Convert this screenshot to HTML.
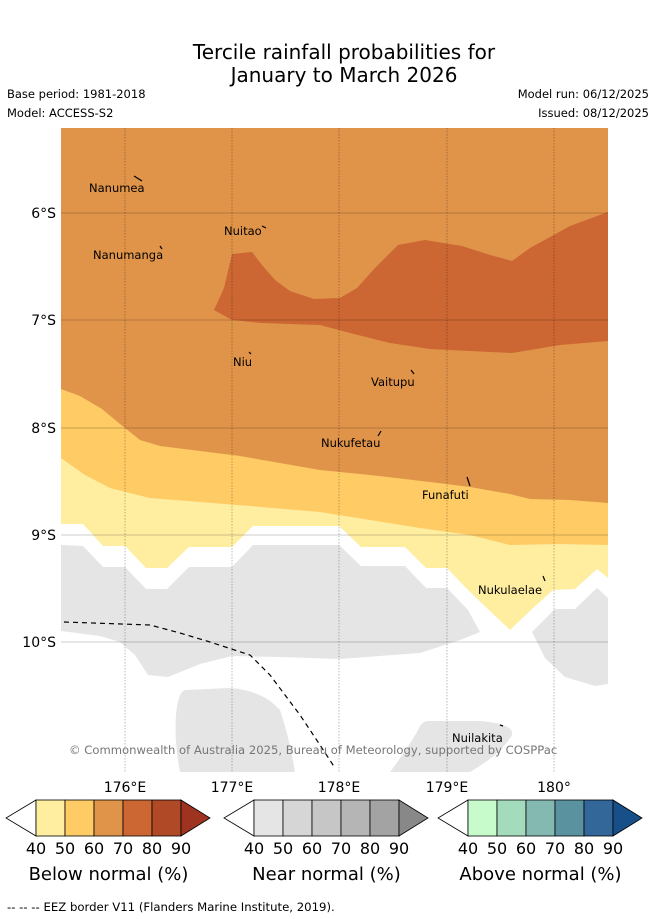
<!DOCTYPE html>
<html><head><meta charset="utf-8"><style>
html,body{margin:0;padding:0;background:#fff}
body{width:655px;height:919px;position:relative;overflow:hidden;font-family:"DejaVu Sans","Liberation Sans",sans-serif}
.t{position:absolute;white-space:nowrap}
</style></head><body>
<div class="t" style="left:0;width:688px;top:41px;text-align:center;font-size:20px;line-height:23px">Tercile rainfall probabilities for<br>January to March 2026</div>
<div class="t" style="left:7px;top:87px;font-size:11.5px">Base period: 1981-2018</div>
<div class="t" style="left:7px;top:106px;font-size:11.5px">Model: ACCESS-S2</div>
<div class="t" style="right:6px;top:87px;font-size:11.5px">Model run: 06/12/2025</div>
<div class="t" style="right:6px;top:106px;font-size:11.5px">Issued: 08/12/2025</div>

<svg style="position:absolute;left:0;top:0" width="655" height="919">
<defs><clipPath id="mc"><rect x="61" y="128" width="547" height="644"/></clipPath></defs>
<g clip-path="url(#mc)">
<rect x="61" y="128" width="547" height="644" fill="#e0944a"/>
<polygon fill="#cc6633" points="214,310 224,288 232,254 252,252 262,265 275,280 290,291 314,299 340,298 357,288 375,268 398,245 425,240 462,246 490,255 512,261 530,248 570,226 608,212 608,341 560,345 512,353 470,351 430,349 390,343 350,333 320,325 290,324 262,323 232,320"/>
<polygon fill="#fecb65" points="61,389 80,396 102,409 120,424 140,440 160,446 200,451 240,456 280,463 320,470 370,475 430,482 470,487 510,494 530,499 570,500 608,503 608,772 61,772"/>
<polygon fill="#ffeda0" points="61,458 85,475 110,488 150,498 200,502 250,506 320,512 370,520 420,528 470,535 510,545 560,544 608,545 608,772 61,772"/>
<polygon fill="#ffffff" points="61,524 83,524 103,546 125,546 146,568 167,568 189,547 232,547 253,526 339,526 361,547 405,547 426,568 447,568 468,590 490,611 510,630 532,609 553,590 575,589 597,569 608,578 608,772 61,772"/>
<polygon fill="#e5e5e5" points="61,545 83,546 103,567 125,567 146,589 167,589 189,567 232,567 253,545 339,545 361,566 405,566 426,588 447,588 468,610 480,632 460,640 420,653 340,659 280,657 232,656 200,664 168,677 148,675 135,655 120,642 100,636 61,631"/>
<polygon fill="#e5e5e5" points="608,598 597,588 575,609 555,609 532,632 545,658 565,677 595,686 608,684"/>
<path fill="#e5e5e5" d="M185,690 L230,688 Q262,690 280,710 Q290,740 295,772 L180,772 Q174,740 176,715 Q178,692 185,690 Z"/>
<path fill="#e5e5e5" d="M428,721 L480,721 Q515,724 512,735 Q500,755 470,772 L390,772 Q410,745 418,730 Q422,721 428,721 Z"/>
<g stroke="rgba(0,0,0,0.3)" stroke-width="0.9" stroke-dasharray="1.5,1.5">
<line x1="125" y1="128" x2="125" y2="772"/><line x1="232" y1="128" x2="232" y2="772"/><line x1="339" y1="128" x2="339" y2="772"/><line x1="447" y1="128" x2="447" y2="772"/><line x1="554" y1="128" x2="554" y2="772"/>
</g>
<g stroke="rgba(0,0,0,0.2)" stroke-width="1">
<line x1="61" y1="213" x2="608" y2="213"/><line x1="61" y1="320" x2="608" y2="320"/><line x1="61" y1="428" x2="608" y2="428"/><line x1="61" y1="535" x2="608" y2="535"/><line x1="61" y1="642" x2="608" y2="642"/>
</g>
<polyline fill="none" stroke="#000" stroke-width="1.2" stroke-dasharray="5,4" points="64,622 150,625 180,633 210,642 250,655 270,675 300,715 320,745 335,768"/>
<g stroke="#000" stroke-width="1.2">
<line x1="134" y1="176" x2="142" y2="181"/><line x1="160" y1="246" x2="162" y2="249"/><line x1="262" y1="226" x2="266" y2="228"/><line x1="249" y1="352" x2="251" y2="354"/><line x1="411" y1="370" x2="414" y2="374"/><line x1="378" y1="436" x2="381" y2="431"/><line x1="467" y1="477" x2="470" y2="486"/><line x1="543" y1="576" x2="545" y2="581"/><line x1="500" y1="725" x2="503" y2="726"/>
</g>
</g>
<g font-family="DejaVu Sans, Liberation Sans, sans-serif" font-size="11.5" fill="#000">
<text x="89" y="192">Nanumea</text>
<text x="93" y="259">Nanumanga</text>
<text x="224" y="235">Nuitao</text>
<text x="233" y="366">Niu</text>
<text x="371" y="386">Vaitupu</text>
<text x="321" y="447">Nukufetau</text>
<text x="422" y="499">Funafuti</text>
<text x="478" y="594">Nukulaelae</text>
<text x="452" y="742">Nuilakita</text>
<text x="69" y="754" fill="#777" font-size="11.6">© Commonwealth of Australia 2025, Bureau of Meteorology, supported by COSPPac</text>
</g>
<g font-family="DejaVu Sans, Liberation Sans, sans-serif" font-size="14" fill="#000">
<text x="56" y="218" text-anchor="end">6°S</text><text x="56" y="325" text-anchor="end">7°S</text><text x="56" y="433" text-anchor="end">8°S</text><text x="56" y="540" text-anchor="end">9°S</text><text x="56" y="647" text-anchor="end">10°S</text>
</g>
<g font-family="DejaVu Sans, Liberation Sans, sans-serif" font-size="14" fill="#000" text-anchor="middle">
<text x="125" y="792">176°E</text><text x="232" y="792">177°E</text><text x="339" y="792">178°E</text><text x="447" y="792">179°E</text><text x="554" y="792">180°</text>
</g>
<g id="cbars"></g>
</svg>
<div class="t" style="left:7px;top:900px;font-size:11.7px">--  --  -- EEZ border V11 (Flanders Marine Institute, 2019).</div>
<script>
const cbColors = [
 ["#ffeda0","#fecb65","#e0944a","#cc6633","#b04a26","#9e3320"],
 ["#e5e5e5","#d6d6d6","#c6c6c6","#b5b5b5","#a3a3a3","#888888"],
 ["#c8fbcb","#a4dbbd","#84b9b1","#5b92a0","#336699","#174f88"]];
const cbTitles = ["Below normal (%)","Near normal (%)","Above normal (%)"];
const cbTicks = ["40","50","60","70","80","90"];
const cbStarts = [36,254,468];
const NS="http://www.w3.org/2000/svg";
const g=document.getElementById('cbars');
function mk(t,a){const e=document.createElementNS(NS,t);for(const k in a)e.setAttribute(k,a[k]);return e;}
cbStarts.forEach((x0,i)=>{
 const w=29,y0=800,h=36;
 const grp=mk('g',{});
 
 
 const lt=mk('polygon',{points:`${x0},${y0} ${x0-30},${y0+h/2} ${x0},${y0+h}`,fill:'#fff',stroke:'#000','stroke-width':0.8});
 grp.appendChild(lt);
 for(let k=0;k<5;k++){
  grp.appendChild(mk('rect',{x:x0+k*w,y:y0,width:w,height:h,fill:cbColors[i][k],stroke:'#000','stroke-width':0.8}));
 }
 const xe=x0+5*w;
 grp.appendChild(mk('polygon',{points:`${xe},${y0} ${xe+29},${y0+h/2} ${xe},${y0+h}`,fill:cbColors[i][5],stroke:'#000','stroke-width':0.8}));
 cbTicks.forEach((tk,k)=>{
  const t=mk('text',{x:x0+k*w,y:854,'text-anchor':'middle','font-size':16,'font-family':'DejaVu Sans, Liberation Sans, sans-serif'});
  t.textContent=tk;grp.appendChild(t);
 });
 const tt=mk('text',{x:x0+2.5*w,y:880,'text-anchor':'middle','font-size':18,'font-family':'DejaVu Sans, Liberation Sans, sans-serif'});
 
 
 tt.textContent=cbTitles[i];grp.appendChild(tt);
 g.appendChild(grp);
});
</script>
</body></html>
